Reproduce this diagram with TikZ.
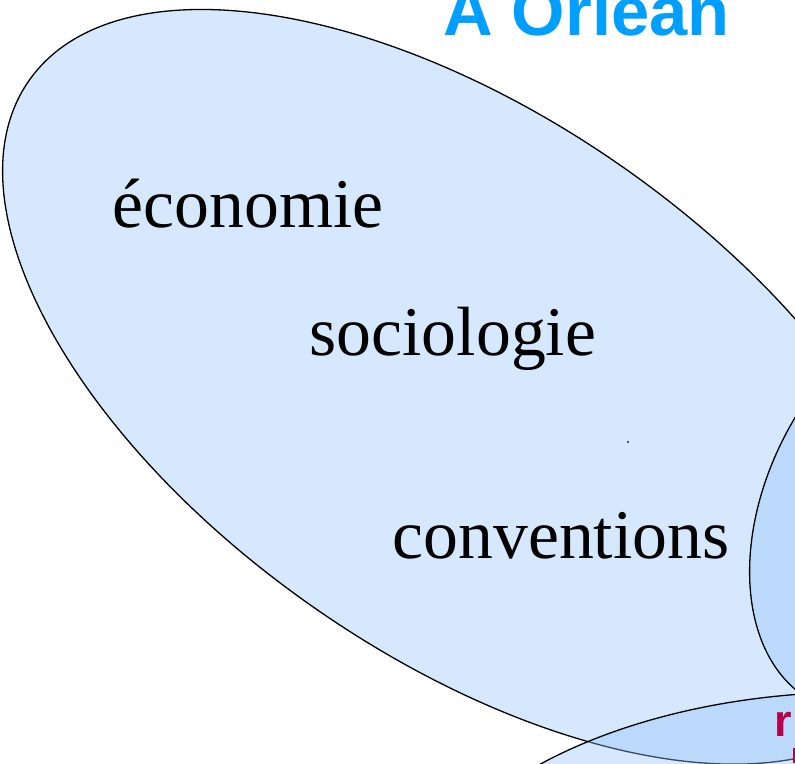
\documentclass[tikz,border=0pt]{standalone}
\usepackage{fontspec}
\setmainfont{Liberation Serif}
\newfontfamily\titlefont{Liberation Sans}
\definecolor{setblue}{RGB}{145,195,250}
\definecolor{titleblue}{RGB}{0,158,255}
\definecolor{crimsonmark}{RGB}{185,0,75}
\definecolor{dotgray}{RGB}{70,85,110}
\tikzset{
  setshape/.style={draw=black, line width=1.3pt, fill=setblue, fill opacity=0.38, draw opacity=1},
  word/.style={anchor=base west, inner sep=0pt, font=\fontsize{69.7}{80}\selectfont},
  titletext/.style={anchor=base west, inner sep=0pt, text=titleblue, font=\titlefont\bfseries\fontsize{68.7}{80}\selectfont},
}
\begin{document}
\begin{tikzpicture}[x=1pt,y=-1pt]
\useasboundingbox (0,0) rectangle (795,763);
\clip (0,0) rectangle (795,763);
\fill[white] (0,0) rectangle (795,763);
% big ellipse
\path[setshape, rotate around={-34.9:(467.7,386.8)}] (467.7,386.8) ellipse [x radius=535, y radius=269];
% right ellipse
\path[setshape, rotate around={-28:(919,503)}] (919,503) ellipse [x radius=150, y radius=225];
% bottom ellipse
\path[setshape] (860,942) ellipse [x radius=455, y radius=250];
% texts
\node[word] (eco) at (112.5,227) {économie};
\node[word] (soc) at (309.5,355) {sociologie};
\node[word] (conv) at (392.5,558) {conventions};
\node[titletext] (title) at (443,35) {A Orléan};
\node[anchor=base west, inner sep=0pt, text=crimsonmark, font=\titlefont\bfseries\fontsize{45}{50}\selectfont] (cut) at (774.7,736) {r};
\fill[crimsonmark] (793,748) rectangle (797,763);
\fill[dotgray] (627.3,441.3) rectangle (628.7,442.7);
\end{tikzpicture}
\end{document}
